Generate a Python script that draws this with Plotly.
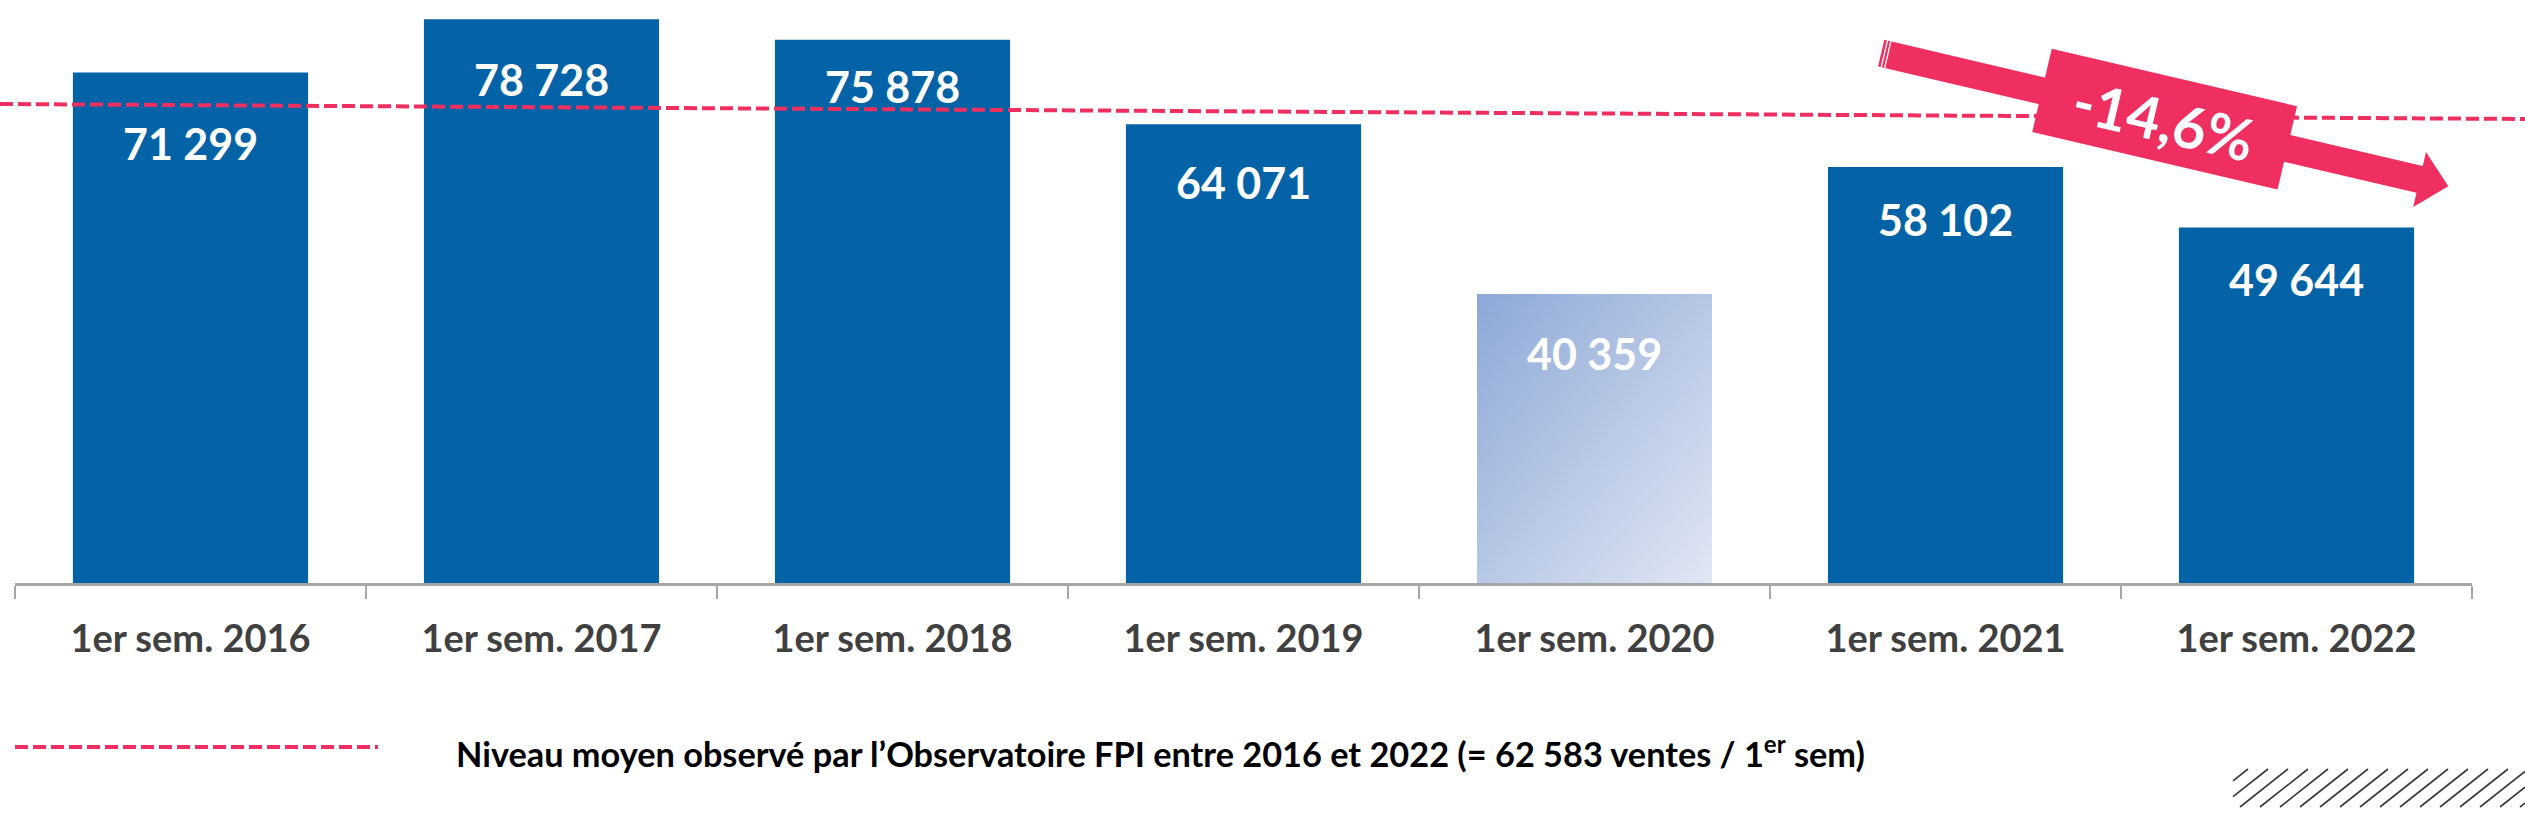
import base64
import math
import plotly.graph_objects as go

# ---------------- data ----------------
categories = ["1er sem. 2016", "1er sem. 2017", "1er sem. 2018", "1er sem. 2019",
              "1er sem. 2020", "1er sem. 2021", "1er sem. 2022"]
ventes = [71299, 78728, 75878, 64071, 40359, 58102, 49644]
moyenne = 62583
evolution_label = "-14,6%"
legend_label = ("Niveau moyen observé par l’Observatoire FPI entre 2016 et 2022 "
                "(= 62 583 ventes / 1<sup>er</sup> sem)")
highlight_index = 4  # 1er sem. 2020 drawn with a gradient

# ---------------- styles / layout ----------------
W, H = 2525, 832
ML, MR, MT, MB = 15, 53, 0, 249
PW, PH = W - ML - MR, H - MT - MB
BLUE = "#0463A7"
PINK = "#EF2F5F"
FONT = "Lato"
BAR_FRACTION = 0.67
LABEL_SHIFTS = [-71, -60, -47, -58, -59, -53, -52]  # px offset of value labels below bar tops


def px(x):
    return (x - ML) / PW


def py(y):
    return (MT + PH - y) / PH


def fmt(v):
    return f"{v:,}".replace(",", " ")


colors = [BLUE] * len(ventes)
colors[highlight_index] = "rgba(0,0,0,0)"

fig = go.Figure(go.Bar(
    x=categories, y=ventes,
    marker=dict(color=colors, line=dict(width=0)),
    hovertemplate="%{x}: %{y}<extra></extra>",
))

# gradient fill for the 2020 bar
svg = ("<svg xmlns='http://www.w3.org/2000/svg' width='100' height='100' preserveAspectRatio='none'>"
       "<defs><linearGradient id='g' x1='0' y1='0' x2='1' y2='1'>"
       "<stop offset='0' stop-color='#8DA8D7'/><stop offset='1' stop-color='#E1E7F4'/>"
       "</linearGradient></defs><rect width='100' height='100' fill='url(#g)'/></svg>")
src = "data:image/svg+xml;base64," + base64.b64encode(svg.encode()).decode()
fig.add_layout_image(dict(
    source=src, xref="x", yref="y",
    x=highlight_index - BAR_FRACTION / 2, y=ventes[highlight_index],
    sizex=BAR_FRACTION, sizey=ventes[highlight_index],
    xanchor="left", yanchor="top", sizing="stretch", layer="below",
))

# value labels inside bars
for c, v, s in zip(categories, ventes, LABEL_SHIFTS):
    fig.add_annotation(x=c, y=v, text=fmt(v), showarrow=False, yshift=s,
                       yanchor="middle",
                       font=dict(family=FONT, size=43, color="white", weight="bold"))

shapes = []
# dashed "moyenne" line (hand-drawn decoration in the original)
shapes.append(dict(type="line", xref="paper", yref="paper", layer="above",
                   x0=px(0), y0=py(104), x1=px(W), y1=py(119),
                   line=dict(color=PINK, width=4, dash="13px,5px")))

# big pink arrow
ang = math.radians(13.2)
u = (math.cos(ang), math.sin(ang))
n = (-math.sin(ang), math.cos(ang))
C0 = (1889, 55)


def pt(a, p):
    x = C0[0] + a * u[0] + p * n[0]
    y = C0[1] + a * u[1] + p * n[1]
    return f"{px(x):.6f},{py(y):.6f}"


def poly(points):
    return "M " + " L ".join(pt(a, p) for a, p in points) + " Z"


shaft = [(-8, -13.7), (545, -13.7), (545, -28.2), (574.5, 0), (545, 28.2), (545, 13.7), (-8, 13.7)]
box = [(157, -43.3), (409, -43.3), (409, 42.2), (157, 42.2)]
shapes.append(dict(type="path", xref="paper", yref="paper", layer="above",
                   path=poly(shaft), fillcolor=PINK, line=dict(width=0)))
shapes.append(dict(type="path", xref="paper", yref="paper", layer="above",
                   path=poly(box), fillcolor=PINK, line=dict(width=0)))
for a in (-1.3, -4.8):
    shapes.append(dict(type="path", xref="paper", yref="paper", layer="above",
                       path=f"M {pt(a, -15)} L {pt(a, 15)}",
                       line=dict(color="white", width=1.3)))

# legend sample line
shapes.append(dict(type="line", xref="paper", yref="paper", layer="above",
                   x0=px(15), y0=py(747), x1=px(378), y1=py(747),
                   line=dict(color=PINK, width=4, dash="13px,5px")))

# hatch decoration bottom right
hx0, hx1, hy0, hy1 = 2233, W, 769, 807
slope = (hy1 - hy0) / 48.0
segs = []
xb = 2200
while xb < hx1:
    xa, ya = xb, hy1
    xt, yt = xb + 48, hy0
    if xa < hx0:
        ya = hy1 - (hx0 - xa) * slope
        xa = hx0
    if xt > hx1:
        yt = hy1 - (hx1 - xb) * slope
        xt = hx1
    if xt > xa:
        segs.append(f"M {px(xa):.6f},{py(ya):.6f} L {px(xt):.6f},{py(yt):.6f}")
    xb += 20
shapes.append(dict(type="path", xref="paper", yref="paper", layer="above",
                   path=" ".join(segs), line=dict(color="#3A3A3A", width=1.6)))

# arrow label
box_c = (C0[0] + 282 * u[0], C0[1] + 282 * u[1])
fig.add_annotation(xref="paper", yref="paper", x=px(box_c[0]), y=py(box_c[1]),
                   text=evolution_label, showarrow=False, textangle=13.2,
                   xanchor="center", yanchor="middle",
                   font=dict(family=FONT, size=58, color="white", weight="bold"))

# legend text
fig.add_annotation(xref="paper", yref="paper", x=px(454), y=py(751),
                   text=legend_label, showarrow=False, xanchor="left", yanchor="middle",
                   font=dict(family=FONT, size=34.3, color="black", weight="bold"))

fig.update_layout(
    width=W, height=H, autosize=False,
    margin=dict(l=ML, r=MR, t=MT, b=MB, pad=0),
    paper_bgcolor="white", plot_bgcolor="rgba(0,0,0,0)",
    bargap=1 - BAR_FRACTION, showlegend=False,
    shapes=shapes,
    xaxis=dict(showline=True, linecolor="#A6A6A6", linewidth=2.5,
               ticks="outside", ticklen=13, tickwidth=2, tickcolor="#A6A6A6",
               tickson="boundaries", showgrid=False, zeroline=False,
               ticklabelstandoff=21,
               tickfont=dict(family=FONT, size=38, color="#404040", weight="bold")),
    yaxis=dict(visible=False, range=[0, 81420], fixedrange=True),
)

fig.write_html("out.html", config={"displayModeBar": False},
               post_script="document.body.style.margin='0';document.body.style.overflow='hidden';")
